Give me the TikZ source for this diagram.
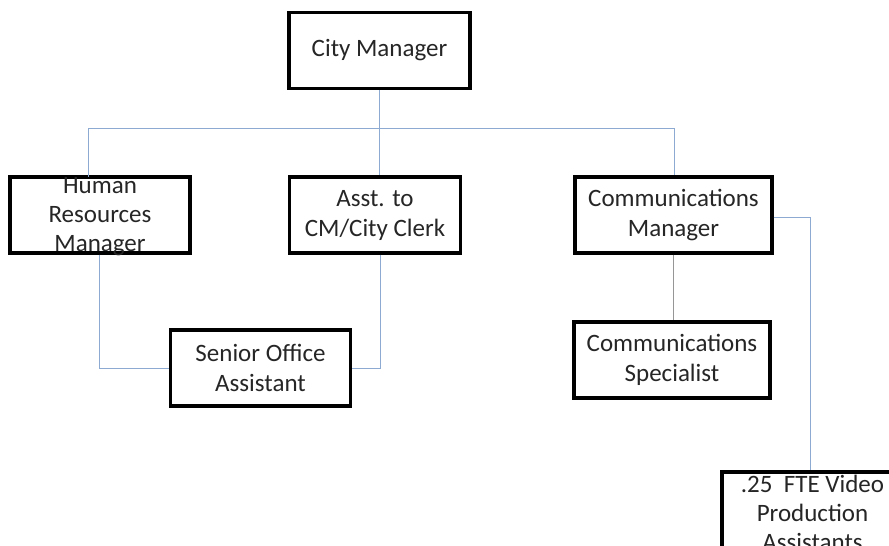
\documentclass[tikz,border=0pt]{standalone}
\usepackage{fontspec}
\setmainfont{Carlito}
\usepackage{tikz}
\definecolor{linkblue}{RGB}{140,170,210}
\definecolor{linkgray}{RGB}{150,150,150}
\def\postnode{\node[box]}

\begin{document}
\begin{tikzpicture}[x=1pt,y=-1pt,
  box/.style={draw=black,line width=3.2pt,minimum height=76pt,inner sep=0pt,
    align=center,text=black!85,font=\fontsize{25}{30}\selectfont},
  label/.style={align=center,text=black!85,inner sep=0pt,font=\fontsize{25}{29}\selectfont},
  link/.style={draw=linkblue,line width=0.9pt}]
\useasboundingbox (0,0) rectangle (889,546);
\clip (0,0) rectangle (889,546);
\fill[white] (0,0) rectangle (889,546);
% top row
\postnode[minimum width=181pt] (cm) at (379.5,50.5) {City Manager};
% second row
\postnode[minimum width=180pt] (hr) at (100,215) {};
\node[label] at (100,217) {Human\\Resources\\Manager};
\postnode[minimum width=171pt] (clerk) at (375,215) {Asst. to\\CM/City Clerk};
\postnode[minimum width=197pt] (comm) at (673.5,215) {Communications\\Manager};
% third row
\postnode[minimum width=180pt] (soa) at (260.5,368) {Senior Office\\Assistant};
\postnode[minimum width=196pt] (spec) at (672,360) {Communications\\Specialist};
\postnode[minimum width=181pt] (video) at (812.5,510) {};
\node[label] at (812.5,513) {.25\ \ FTE Video\\Production\\Assistants};
% branches
\coordinate (bus) at (379.5,128);
\draw[link] (cm) -- (bus);
\draw[link] (88,128) -- (674,128);
\draw[link] (88,128) -- (88,177);
\draw[link] (bus) -- (clerk.north -| bus);
\draw[link] (674,128) -- (comm.north -| 674,0);
\draw[link] (hr.south -| 99,0) |- (soa.west);
\draw[link] (clerk.south -| 380,0) |- (soa.east);
\draw[draw=linkgray,line width=0.9pt] (comm.south) -- (spec.north -| comm.south);
\draw[link] (comm.east |- 0,217) -| (video.north -| 810,0);
\end{tikzpicture}
\end{document}
